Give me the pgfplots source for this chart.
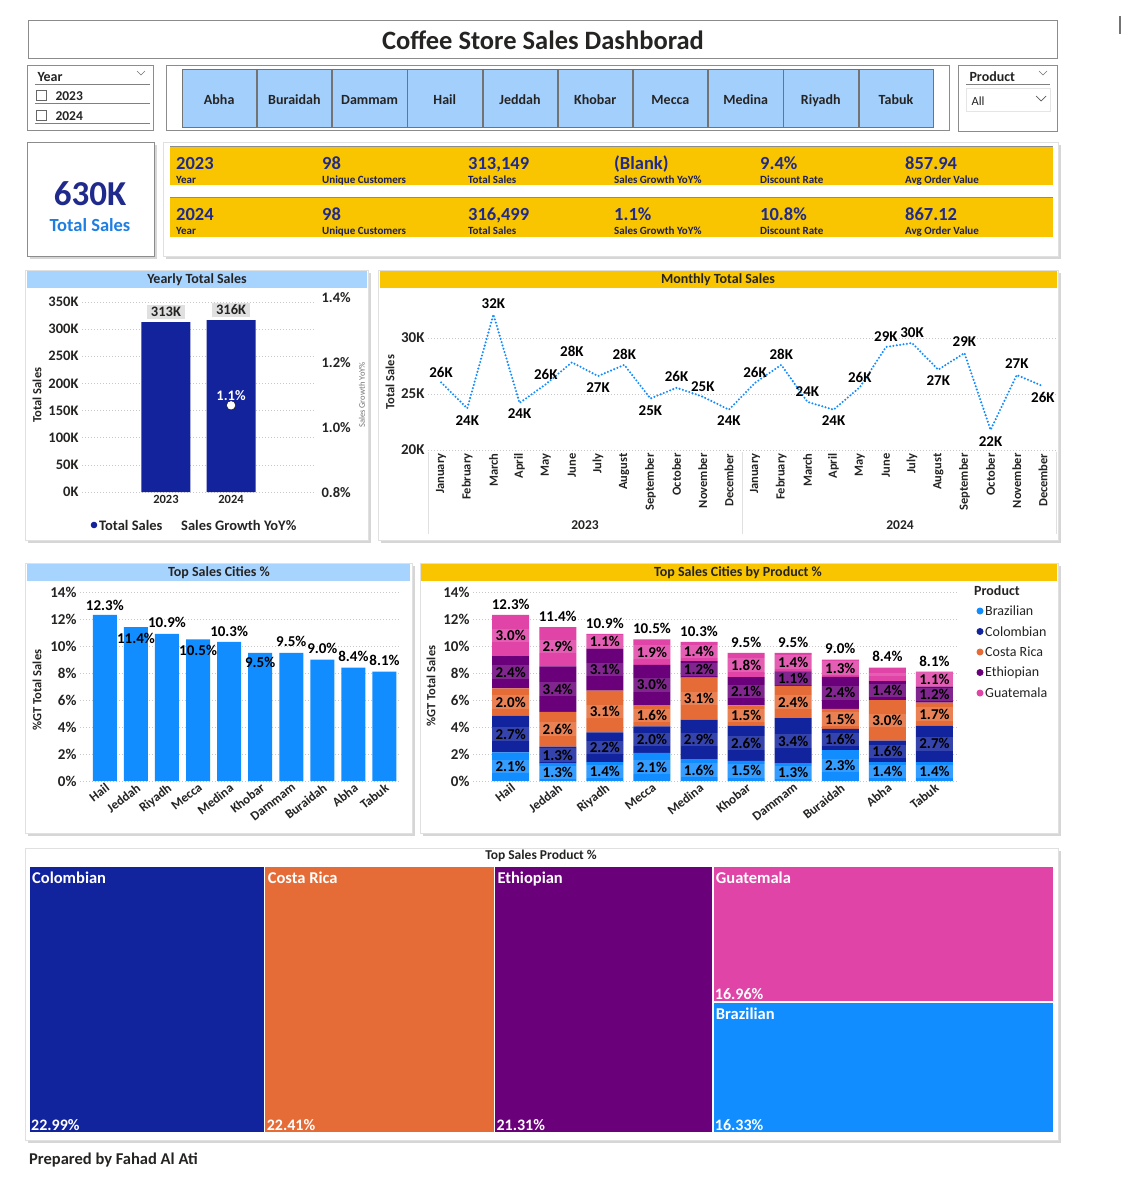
\documentclass[border=0pt]{standalone}
\usepackage{pgfplots}
\pgfplotsset{compat=1.18}
\usepackage{pgfplotstable}
\usepackage{fontspec}
\setmainfont{Carlito}
\usetikzlibrary{shadows}

\definecolor{pbBlue}{HTML}{118DFF}
\definecolor{pbNavy}{HTML}{12239E}
\definecolor{pbOrange}{HTML}{E66C37}
\definecolor{pbPurple}{HTML}{6B007B}
\definecolor{pbPink}{HTML}{E044A7}
\definecolor{barNavy}{HTML}{13239C}
\definecolor{hdrBlue}{HTML}{A7D3FF}
\definecolor{btnBlue}{HTML}{A3CFFD}
\definecolor{hdrYellow}{HTML}{F8C500}
\definecolor{kpiNavy}{HTML}{1F2A8C}
\definecolor{kpiLabel}{HTML}{1A1F5E}
\definecolor{cardBlue}{HTML}{1E7FE3}
\definecolor{gridGray}{HTML}{C8C8C8}
\definecolor{frameGray}{HTML}{8C8C8C}
\definecolor{inkDark}{HTML}{252423}

\newcommand\fs[1]{\fontsize{#1}{#1}\selectfont}

% monthly total sales (thousands) and label offsets
\pgfplotstableread{
x  v      dy
0  26.04  10
1  23.72  -12
2  32.10  11
3  24.20  -11
4  25.87  10
5  27.83  11
6  26.60  -11
7  27.60  11
8  24.60  -12
9  25.56  11
10 24.76  10
11 23.60  -11
12 26.00  10
13 27.60  11
14 24.30  10
15 23.60  -11
16 25.60  10
17 29.20  10
18 29.55  10
19 27.17  -11
20 28.66  11
21 21.80  -12
22 26.70  11
23 25.70  -11
}\monthly

% share of grand total by city (Hail ... Tabuk)
\pgfplotstableread{
x  v     dy
0  12.3  10
1  11.4  -11
2  10.9  11
3  10.5  -11
4  10.3  11
5  9.5   -10
6  9.5   11
7  9.0   11
8  8.4   11
9  8.1   11
}\cities

% share by city and product
\pgfplotstableread{
x  B     C     CR    E     G     T
0  2.13  2.72  2.02  2.42  3.01  12.3
1  1.28  1.27  2.58  3.37  2.90  11.4
2  1.40  2.20  3.10  3.10  1.10  10.9
3  2.08  1.97  1.58  2.98  1.89  10.5
4  1.62  2.92  3.12  1.22  1.42  10.3
5  1.50  2.60  1.50  2.10  1.80  9.5
6  1.28  3.38  2.38  1.08  1.38  9.5
7  2.28  1.58  1.48  2.38  1.28  9.0
8  1.40  1.60  3.00  1.40  1.00  8.4
9  1.40  2.70  1.70  1.20  1.10  8.1
}\bycity

\pgfplotsset{
  panelaxis/.style={
    scale only axis, clip=false,
    axis line style={draw=none}, tick style={draw=none},
    ymajorgrids, grid style={gridGray, line width=0.6pt, dash pattern=on 1pt off 2pt},
    /pgf/number format/assume math mode=true,
    ticklabel style={text=inkDark},
  },
  % label in the middle of a stacked segment, value taken from column #1
  seglabel/.style={
    draw=none, mark=none,
    point meta=\thisrow{#1},
    visualization depends on={\thisrow{#1}\as\segv},
    nodes near coords={\ifdim\segv pt<1.05pt\relax\else\pgfmathprintnumber[fixed,fixed zerofill,precision=1]{\pgfplotspointmeta}\%\fi},
    nodes near coords style={font=\fs{15}\bfseries, text=black, anchor=center,
      fill=white, fill opacity=0.15, text opacity=1,
      minimum width=37pt, inner ysep=1.5pt},
  },
}

\tikzset{
  panel/.style={draw=black!12, fill=white,
    drop shadow={shadow xshift=3pt, shadow yshift=-3pt, opacity=0.35, fill=black!45}},
}

\begin{document}
\begin{tikzpicture}
\fill[white] (0pt,0pt) rectangle (1138pt,-1200pt);
\useasboundingbox (0pt,0pt) rectangle (1138pt,-1200pt);

\begin{scope}[x=1pt, y=-1pt]
  % header
  \draw[frameGray, line width=1pt, fill=white] (28,20) rectangle (1057,58);
  \node[font=\fs{26.5}\bfseries, text=inkDark] at (543,40) {Coffee Store Sales Dashborad};
  \draw[black!55, line width=2pt] (1120,16) -- (1120,34);

  % year slicer
  \draw[frameGray, line width=0.8pt, fill=white] (27,65) rectangle (153,130);
  \node[anchor=base west, font=\fs{14}\bfseries, text=inkDark] at (34,81) {Year};
  \draw[black!55, line width=0.6pt] (137,71) -- (141,75) -- (145,71);
  \draw[black!50, line width=0.7pt] (35,84) -- (150,84);
  \draw[black!60, line width=0.6pt] (36,90) rectangle (46,100);
  \node[anchor=base west, font=\fs{13.5}\bfseries, text=inkDark] at (52,100) {2023};
  \draw[black!50, line width=0.7pt] (35,103) -- (150,103);
  \draw[black!60, line width=0.6pt] (36,110) rectangle (46,120);
  \node[anchor=base west, font=\fs{13.5}\bfseries, text=inkDark] at (52,120) {2024};
  \draw[black!50, line width=0.7pt] (35,123) -- (150,123);

  % city buttons
  \draw[frameGray, line width=0.8pt, fill=white] (166,65) rectangle (949,130);
  \foreach \i/\c in {0/Abha,1/Buraidah,2/Dammam,3/Hail,4/Jeddah,5/Khobar,6/Mecca,7/Medina,8/Riyadh,9/Tabuk}{
    \draw[fill=btnBlue, draw=black!55, line width=0.6pt] ({182+\i*75.2},69) rectangle ({182+\i*75.2+74.4},127);
    \node[anchor=base, font=\fs{14}\bfseries, text=inkDark] at ({182+\i*75.2+37.2},104) {\c};
  }

  % product slicer
  \draw[frameGray, line width=0.8pt, fill=white] (958,65) rectangle (1057,131);
  \node[anchor=base west, font=\fs{14}\bfseries, text=inkDark] at (966,81) {Product};
  \draw[black!55, line width=0.6pt] (1039,71) -- (1043,75) -- (1047,71);
  \draw[black!50, line width=0.7pt] (966,84) -- (1050,84);
  \draw[black!10, line width=0.6pt] (966,88) rectangle (1050,111);
  \node[anchor=base west, font=\fs{12.5}, text=inkDark] at (968,105) {All};
  \draw[black!65, line width=0.7pt] (1036,96) -- (1041,101) -- (1046,96);

  % total sales card
  \draw[panel, draw=frameGray] (27,142) rectangle (154,256);
  \node[font=\fs{35}\bfseries, text=kpiNavy] at (90,194) {630K};
  \node[font=\fs{18.5}\bfseries, text=cardBlue] at (90,225) {Total Sales};

  % yearly KPI rows
  \draw[panel] (163,142) rectangle (1058,256);
  \fill[hdrYellow] (170,146) rectangle (1053,185);
  \fill[hdrYellow] (170,197) rectangle (1053,237);
  \draw[black!45, line width=0.8pt] (170,146) -- (1053,146);
  \draw[black!45, line width=0.8pt] (170,197) -- (1053,197);
  \foreach \xx/\va/\vb/\lab in {176/2023/2024/Year, 322/98/98/Unique Customers,
      468/{313,149}/{316,499}/Total Sales, 614/(Blank)/1.1\%/Sales Growth YoY\%,
      760/9.4\%/10.8\%/Discount Rate, 905/857.94/867.12/Avg Order Value}{
    \node[anchor=base west, inner sep=0pt, font=\fs{18.5}\bfseries, text=kpiNavy] at (\xx,169) {\va};
    \node[anchor=base west, inner sep=0pt, font=\fs{11}\bfseries, text=kpiLabel] at (\xx,183) {\lab};
    \node[anchor=base west, inner sep=0pt, font=\fs{18.5}\bfseries, text=kpiNavy] at (\xx,220) {\vb};
    \node[anchor=base west, inner sep=0pt, font=\fs{11}\bfseries, text=kpiLabel] at (\xx,234) {\lab};
  }

  % chart panels
  \draw[panel] (25,270) rectangle (368,540);
  \fill[hdrBlue] (27,271) rectangle (367,288);
  \node[font=\fs{14}\bfseries, text=inkDark] at (197,279.5) {Yearly Total Sales};

  \draw[panel] (378,270) rectangle (1058,540);
  \fill[hdrYellow] (380,271) rectangle (1057,288);
  \node[font=\fs{14}\bfseries, text=inkDark] at (718,279.5) {Monthly Total Sales};

  \draw[panel] (25,563) rectangle (412,833);
  \fill[hdrBlue] (27,564) rectangle (410,581);
  \node[font=\fs{14}\bfseries, text=inkDark] at (219,572.5) {Top Sales Cities \%};

  \draw[panel] (420,563) rectangle (1058,833);
  \fill[hdrYellow] (421,564) rectangle (1057,581);
  \node[font=\fs{14}\bfseries, text=inkDark] at (738,572.5) {Top Sales Cities by Product \%};

  \draw[panel] (25,848) rectangle (1058,1140);
  \node[font=\fs{13.5}\bfseries, text=inkDark] at (541,856) {Top Sales Product \%};

  % axis titles
  \node[rotate=90, font=\fs{12.5}\bfseries, text=inkDark] at (37,395) {Total Sales};
  \node[rotate=90, font=\fs{8.5}, text=black!55] at (362,395) {Sales Growth YoY\%};
  \node[rotate=90, font=\fs{12.5}\bfseries, text=inkDark] at (390,382) {Total Sales};
  \node[rotate=90, font=\fs{12.5}\bfseries, text=inkDark] at (37,690) {\%GT Total Sales};
  \node[rotate=90, font=\fs{12.5}\bfseries, text=inkDark] at (431,686) {\%GT Total Sales};

  % yearly legend
  \fill[barNavy] (94,525) circle (3.3);
  \node[anchor=west, font=\fs{14.5}\bfseries, text=inkDark, inner sep=0pt] at (99,525) {Total Sales};
  \node[anchor=west, font=\fs{14.5}\bfseries, text=inkDark, inner sep=0pt] at (181,525) {Sales Growth YoY\%};

  % monthly year groups
  \foreach \xx in {428,742,1056}{\draw[black!12, line width=0.6pt] (\xx,452) -- (\xx,534);}
  \node[font=\fs{13.5}\bfseries, text=inkDark] at (585,525) {2023};
  \node[font=\fs{13.5}\bfseries, text=inkDark] at (900,525) {2024};

  % product legend
  \node[anchor=west, font=\fs{14}\bfseries, text=inkDark, inner sep=0pt] at (974,591) {Product};
  \foreach \yy/\col/\nm in {611/pbBlue/Brazilian, 631.5/pbNavy/Colombian, 652/pbOrange/Costa Rica,
      672.5/pbPurple/Ethiopian, 693/pbPink/Guatemala}{
    \fill[\col] (980,\yy) circle (3.5);
    \node[anchor=west, font=\fs{14}, text=inkDark, inner sep=0pt] at (985,\yy) {\nm};
  }

  \node[anchor=west, font=\fs{16.5}\bfseries, text=inkDark, inner sep=0pt] at (29,1160) {Prepared by Fahad Al Ati};
\end{scope}

% ---------- yearly total sales (thousands) ----------
\begin{axis}[panelaxis,
  at={(82pt,-302pt)}, anchor=north west, width=233pt, height=190pt,
  xmin=-1.29, xmax=2.29, ymin=0, ymax=350,
  xtick={0,1}, xticklabels={2023,2024},
  ytick={0,50,...,350}, yticklabel={\pgfmathprintnumber{\tick}K},
  yticklabel style={font=\fs{14.5}\bfseries},
  xticklabel style={font=\fs{12.5}\bfseries},
]
\addplot[ybar, bar width=49pt, fill=barNavy, draw=none,
  nodes near coords={\pgfmathprintnumber[fixed,precision=0]{\pgfplotspointmeta}K},
  nodes near coords style={font=\fs{14.5}\bfseries, text=inkDark, fill=black!12,
    anchor=south, yshift=3pt, inner xsep=4pt, inner ysep=2pt}]
  coordinates {(0,313.149) (1,316.499)};
\end{axis}

% ---------- sales growth (right axis) ----------
\begin{axis}[scale only axis, clip=false,
  at={(82pt,-298pt)}, anchor=north west, width=233pt, height=195pt,
  xmin=-1.29, xmax=2.29, ymin=0.8, ymax=1.4,
  axis x line=none, axis y line*=right,
  axis line style={draw=none}, tick style={draw=none},
  /pgf/number format/assume math mode=true,
  ytick={0.8,1.0,1.2,1.4},
  yticklabel={\pgfmathprintnumber[fixed,fixed zerofill,precision=1]{\tick}\%},
  yticklabel style={font=\fs{14.5}\bfseries, text=inkDark, xshift=3pt},
]
\addplot[only marks, mark=*, mark size=4.6pt, mark options={fill=white, draw=none},
  nodes near coords={\pgfmathprintnumber[fixed,precision=1]{\pgfplotspointmeta}\%},
  nodes near coords style={font=\fs{14.5}\bfseries, text=white, anchor=south, yshift=1pt}]
  coordinates {(1,1.0698)};
\end{axis}

% ---------- monthly total sales (thousands) ----------
\begin{axis}[panelaxis,
  at={(428pt,-304.4pt)}, anchor=north west, width=628pt, height=145.6pt,
  xmin=-0.5, xmax=23.5, ymin=20, ymax=33,
  ytick={20,25,30}, yticklabel={\pgfmathprintnumber{\tick}K},
  yticklabel style={font=\fs{15}\bfseries},
  xtick={0,...,23},
  xticklabels={January,February,March,April,May,June,July,August,September,October,November,December,
               January,February,March,April,May,June,July,August,September,October,November,December},
  xticklabel style={rotate=90, anchor=east, font=\fs{12.5}\bfseries},
]
\addplot[pbBlue, mark=none, line width=2.3pt, dash pattern=on 0pt off 3.4pt, line cap=round,
  point meta=\thisrow{v},
  visualization depends on={\thisrow{dy}\as\labdy},
  nodes near coords={\pgfmathprintnumber[fixed,precision=0]{\pgfplotspointmeta}K},
  nodes near coords style={font=\fs{15}\bfseries, text=black, anchor=center, yshift=\labdy pt}]
  table[x=x, y=v] {\monthly};
\end{axis}

% ---------- top sales cities % ----------
\begin{axis}[panelaxis,
  at={(80pt,-592pt)}, anchor=north west, width=320pt, height=189pt,
  xmin=-0.8, xmax=9.5, ymin=0, ymax=14,
  ytick={0,2,...,14}, yticklabel={\pgfmathprintnumber{\tick}\%},
  yticklabel style={font=\fs{15}\bfseries},
  xtick={0,...,9},
  xticklabels={Hail,Jeddah,Riyadh,Mecca,Medina,Khobar,Dammam,Buraidah,Abha,Tabuk},
  xticklabel style={rotate=38, anchor=north east, font=\fs{13}\bfseries, inner sep=1pt},
]
\addplot[ybar, bar width=24pt, fill=pbBlue, draw=none,
  point meta=\thisrow{v},
  visualization depends on={\thisrow{dy}\as\labdy},
  nodes near coords={\pgfmathprintnumber[fixed,fixed zerofill,precision=1]{\pgfplotspointmeta}\%},
  nodes near coords style={font=\fs{15}\bfseries, text=black, anchor=center, yshift=\labdy pt}]
  table[x=x, y=v] {\cities};
\end{axis}

% ---------- top sales cities by product %: stacked bars ----------
\begin{axis}[panelaxis,
  at={(473pt,-592pt)}, anchor=north west, width=485pt, height=189pt,
  xmin=-0.8, xmax=9.5, ymin=0, ymax=14,
  ybar stacked, bar width=37pt,
  ytick={0,2,...,14}, yticklabel={\pgfmathprintnumber{\tick}\%},
  yticklabel style={font=\fs{15}\bfseries},
  xtick={0,...,9},
  xticklabels={Hail,Jeddah,Riyadh,Mecca,Medina,Khobar,Dammam,Buraidah,Abha,Tabuk},
  xticklabel style={rotate=38, anchor=north east, font=\fs{13}\bfseries, inner sep=1pt},
]
\addplot[fill=pbBlue, draw=none] table[x=x, y=B] {\bycity};
\addplot[fill=pbNavy, draw=none] table[x=x, y=C] {\bycity};
\addplot[fill=pbOrange, draw=none] table[x=x, y=CR] {\bycity};
\addplot[fill=pbPurple, draw=none] table[x=x, y=E] {\bycity};
\addplot[fill=pbPink, draw=none] table[x=x, y=G] {\bycity};
\end{axis}

% ---------- segment and total labels for the stacked bars ----------
\begin{axis}[scale only axis, hide axis, clip=false,
  /pgf/number format/assume math mode=true,
  at={(473pt,-592pt)}, anchor=north west, width=485pt, height=189pt,
  xmin=-0.8, xmax=9.5, ymin=0, ymax=14]
\addplot[seglabel=B]  table[x=x, y expr=\thisrow{B}/2] {\bycity};
\addplot[seglabel=C]  table[x=x, y expr=\thisrow{B}+\thisrow{C}/2] {\bycity};
\addplot[seglabel=CR] table[x=x, y expr=\thisrow{B}+\thisrow{C}+\thisrow{CR}/2] {\bycity};
\addplot[seglabel=E]  table[x=x, y expr=\thisrow{B}+\thisrow{C}+\thisrow{CR}+\thisrow{E}/2] {\bycity};
\addplot[seglabel=G]  table[x=x, y expr=\thisrow{B}+\thisrow{C}+\thisrow{CR}+\thisrow{E}+\thisrow{G}/2] {\bycity};
\addplot[draw=none, mark=none, point meta=\thisrow{T},
  nodes near coords={\pgfmathprintnumber[fixed,fixed zerofill,precision=1]{\pgfplotspointmeta}\%},
  nodes near coords style={font=\fs{15}\bfseries, text=black, anchor=south, yshift=2pt}]
  table[x=x, y=T] {\bycity};
\end{axis}

% ---------- top sales product % (treemap) ----------
\begin{axis}[scale only axis, hide axis, clip=false,
  at={(29pt,-866pt)}, anchor=north west, width=1025pt, height=267pt,
  xmin=0, xmax=100, ymin=0, ymax=1]
\addplot[fill=pbNavy, draw=white, line width=1.5pt, mark=none]
  coordinates {(0,0) (22.99,0) (22.99,1) (0,1) (0,0)};
\addplot[fill=pbOrange, draw=white, line width=1.5pt, mark=none]
  coordinates {(22.99,0) (45.40,0) (45.40,1) (22.99,1) (22.99,0)};
\addplot[fill=pbPurple, draw=white, line width=1.5pt, mark=none]
  coordinates {(45.40,0) (66.71,0) (66.71,1) (45.40,1) (45.40,0)};
\addplot[fill=pbPink, draw=white, line width=1.5pt, mark=none]
  coordinates {(66.71,0.4905) (100,0.4905) (100,1) (66.71,1) (66.71,0.4905)};
\addplot[fill=pbBlue, draw=white, line width=1.5pt, mark=none]
  coordinates {(66.71,0) (100,0) (100,0.4905) (66.71,0.4905) (66.71,0)};
\tikzset{tmname/.style={anchor=north west, text=white, font=\fs{16.5}\bfseries, inner sep=0pt, xshift=3pt, yshift=-6pt},
         tmval/.style={anchor=south west, text=white, font=\fs{16}\bfseries, inner sep=0pt, xshift=2pt, yshift=2pt}}
\node[tmname] at (axis cs:0,1) {Colombian};
\node[tmname] at (axis cs:22.99,1) {Costa Rica};
\node[tmname] at (axis cs:45.40,1) {Ethiopian};
\node[tmname] at (axis cs:66.71,1) {Guatemala};
\node[tmname] at (axis cs:66.71,0.4905) {Brazilian};
\node[tmval] at (axis cs:0,0) {22.99\%};
\node[tmval] at (axis cs:22.99,0) {22.41\%};
\node[tmval] at (axis cs:45.40,0) {21.31\%};
\node[tmval] at (axis cs:66.71,0.4905) {16.96\%};
\node[tmval] at (axis cs:66.71,0) {16.33\%};
\end{axis}
\end{tikzpicture}
\end{document}
